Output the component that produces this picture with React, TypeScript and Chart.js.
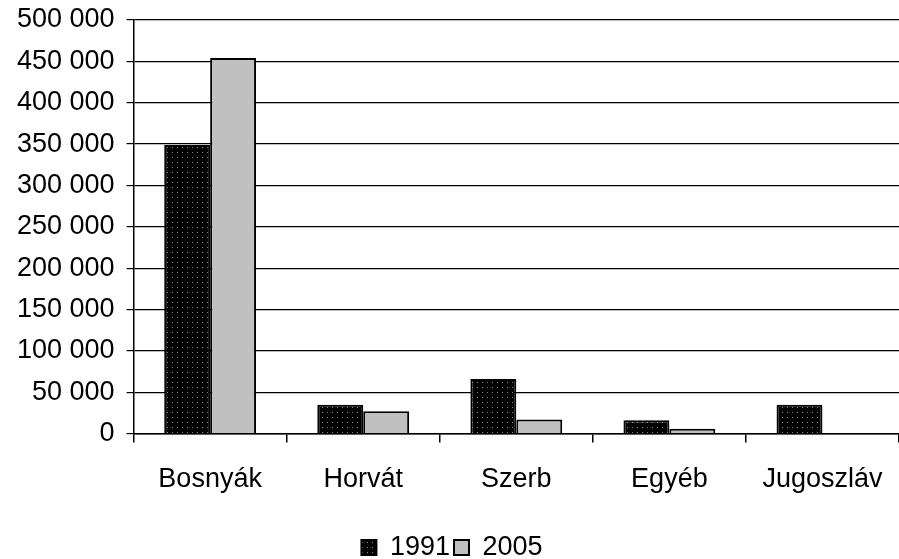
import React, { useEffect, useRef } from "react";
import { Chart, registerables } from "chart.js";

Chart.register(...registerables);

const categories = ["Bosnyák", "Horvát", "Szerb", "Egyéb", "Jugoszláv"];
const values1991 = [349000, 35000, 66000, 16000, 35000];
const values2005 = [454000, 27000, 17000, 6000, 0];
const seriesLabels = ["1991", "2005"];

function fmt(v: number): string {
  return String(v).replace(/\B(?=(\d{3})+(?!\d))/g, " ");
}

function makePattern(): CanvasPattern | string {
  const c = document.createElement("canvas");
  c.width = 5;
  c.height = 5;
  const ctx = c.getContext("2d");
  if (!ctx) return "#000";
  ctx.fillStyle = "#000";
  ctx.fillRect(0, 0, 5, 5);
  ctx.fillStyle = "#8a8a8a";
  ctx.fillRect(2, 2, 1, 1);
  const p = ctx.createPattern(c, "repeat");
  return p || "#000";
}

export default function App() {
  const ref = useRef<HTMLCanvasElement | null>(null);
  useEffect(() => {
    if (!ref.current) return;
    const font = { family: "'Liberation Sans', Arial, sans-serif", size: 27 };
    const pattern = makePattern();
    const chart = new Chart(ref.current, {
      type: "bar",
      data: {
        labels: categories,
        datasets: [
          {
            label: seriesLabels[0],
            data: values1991,
            backgroundColor: pattern as any,
            borderColor: "#000",
            borderWidth: 2,
            categoryPercentage: 0.6,
            barPercentage: 1.0,
          },
          {
            label: seriesLabels[1],
            data: values2005,
            backgroundColor: "#c0c0c0",
            borderColor: "#000",
            borderWidth: 2,
            categoryPercentage: 0.6,
            barPercentage: 1.0,
          },
        ],
      },
      options: {
        animation: false,
        responsive: true,
        maintainAspectRatio: false,
        layout: { padding: { top: 20, right: 0, left: 5, bottom: -12 } },
        plugins: {
          tooltip: { enabled: false },
          legend: {
            position: "bottom",
            labels: {
              color: "#000",
              font,
              boxWidth: 15,
              boxHeight: 15,
              padding: 4,
            },
          },
        },
        scales: {
          x: {
            grid: {
              offset: true,
              drawOnChartArea: false,
              color: "#000",
              tickLength: 9,
              lineWidth: 1.5,
            },
            border: { color: "#000", width: 1.5 },
            ticks: { color: "#000", font, padding: 21, maxRotation: 0 },
            afterFit: (scale: any) => {
              scale.height += 13;
              scale.paddingLeft = 0;
              scale.paddingRight = 0;
            },
          },
          y: {
            min: 0,
            max: 500000,
            grid: { color: "#000", tickLength: 7, lineWidth: 1.2 },
            border: { color: "#000", width: 1.5 },
            ticks: {
              stepSize: 50000,
              color: "#000",
              font,
              padding: 12,
              callback: (v: any) => fmt(Number(v)),
            },
            afterFit: (scale: any) => {
              scale.paddingTop = 0;
              scale.paddingBottom = 0;
            },
          },
        },
      },
    });
    return () => chart.destroy();
  }, []);
  return (
    <div style={{ position: "absolute", left: 0, top: 0, width: 899, height: 559, background: "#fff" }}>
      <canvas ref={ref} />
    </div>
  );
}
